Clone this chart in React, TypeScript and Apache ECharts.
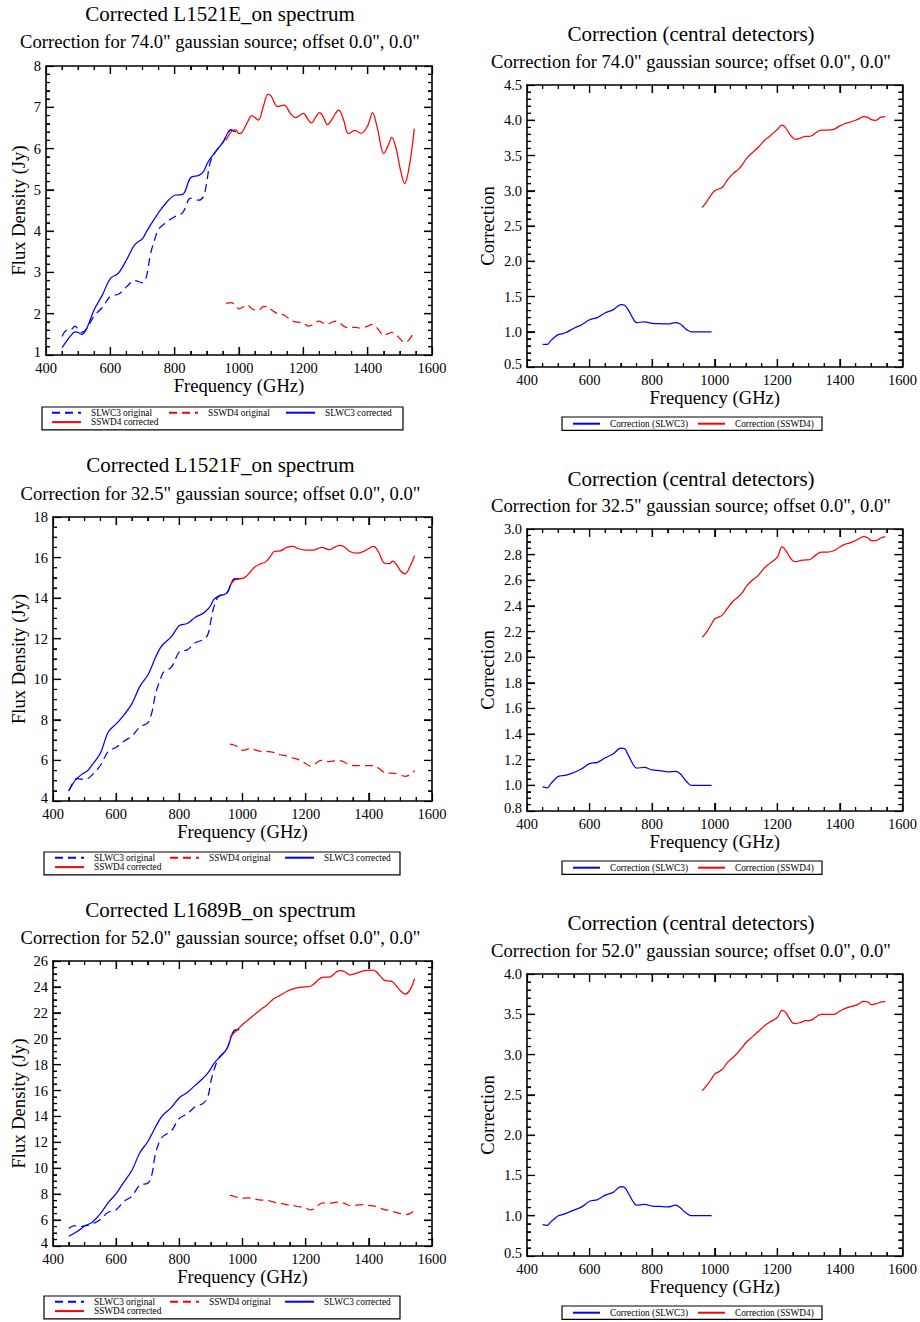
import React, { useEffect, useRef } from "react";
import * as echarts from "echarts";

const FONT = "'Liberation Serif', 'Times New Roman', serif";
const BLUE = "#0000ff";
const RED = "#ff0000";

// Frequencies (GHz)
const slwFreq = [450, 465, 475, 490, 500, 510, 525, 550, 575, 600, 625, 650, 675, 700, 712, 725, 740, 750, 775, 800, 825, 850, 875, 890, 900, 910, 925, 950, 975, 990];
const sswFreq = [960, 975, 990, 1000, 1010, 1025, 1040, 1060, 1075, 1090, 1100, 1120, 1140, 1160, 1175, 1200, 1215, 1225, 1240, 1250, 1260, 1275, 1290, 1300, 1310, 1325, 1340, 1360, 1380, 1400, 1415, 1430, 1450, 1465, 1475, 1490, 1500, 1515, 1530, 1545];

// ---- L1521E (74.0") ----
const e_slwOrig = [1.45, 1.6, 1.6, 1.7, 1.62, 1.55, 1.62, 1.95, 2.15, 2.42, 2.47, 2.65, 2.8, 2.75, 2.9, 3.45, 3.85, 4.05, 4.22, 4.35, 4.45, 4.8, 4.75, 4.85, 5.2, 5.65, 5.9, 6.15, 6.45, 6.4];
const e_slwCorr = [1.18, 1.35, 1.45, 1.56, 1.55, 1.5, 1.62, 2.1, 2.45, 2.85, 2.98, 3.3, 3.66, 3.82, 3.98, 4.15, 4.33, 4.45, 4.7, 4.87, 4.89, 5.3, 5.35, 5.45, 5.62, 5.75, 5.9, 6.15, 6.45, 6.4];
const e_sswOrig = [2.25, 2.27, 2.2, 2.12, 2.15, 2.22, 2.12, 2.08, 2.17, 2.18, 2.1, 2.0, 1.97, 1.85, 1.8, 1.78, 1.7, 1.72, 1.8, 1.82, 1.78, 1.75, 1.8, 1.82, 1.8, 1.7, 1.66, 1.67, 1.65, 1.7, 1.74, 1.65, 1.48, 1.52, 1.55, 1.48, 1.4, 1.3, 1.38, 1.58];
const e_sswCorr = [6.2, 6.4, 6.45, 6.36, 6.4, 6.62, 6.8, 6.69, 7.0, 7.31, 7.27, 7.02, 7.05, 6.85, 6.75, 6.85, 6.7, 6.62, 6.78, 6.87, 6.8, 6.58, 6.72, 6.85, 6.93, 6.7, 6.36, 6.44, 6.37, 6.55, 6.87, 6.5, 5.88, 6.1, 6.27, 5.95, 5.55, 5.15, 5.6, 6.48];
const e_slwFactor = [0.82, 0.82, 0.87, 0.93, 0.96, 0.97, 0.99, 1.05, 1.1, 1.17, 1.2, 1.27, 1.31, 1.385, 1.375, 1.3, 1.18, 1.13, 1.14, 1.12, 1.115, 1.11, 1.13, 1.11, 1.07, 1.03, 1.0, 1.0, 1.0, 1.0];
const e_sswFactor = [2.76, 2.85, 2.95, 3.0, 3.02, 3.05, 3.15, 3.25, 3.3, 3.38, 3.45, 3.54, 3.62, 3.72, 3.77, 3.87, 3.93, 3.9, 3.8, 3.75, 3.73, 3.75, 3.77, 3.77, 3.78, 3.83, 3.86, 3.86, 3.87, 3.92, 3.95, 3.97, 4.0, 4.03, 4.05, 4.04, 4.01, 4.0, 4.04, 4.05];

// ---- L1521F (32.5") ----
const f_slwOrig = [4.5, 4.95, 5.1, 5.08, 5.05, 5.1, 5.3, 5.75, 6.45, 6.65, 6.95, 7.2, 7.65, 7.85, 8.3, 9.3, 10.0, 10.35, 10.6, 11.35, 11.45, 11.8, 11.95, 12.2, 12.9, 13.6, 14.1, 14.25, 14.95, 14.95];
const f_slwCorr = [4.49, 4.9, 5.1, 5.3, 5.4, 5.5, 5.8, 6.35, 7.4, 7.8, 8.25, 8.8, 9.65, 10.2, 10.6, 11.1, 11.55, 11.75, 12.1, 12.65, 12.75, 13.05, 13.25, 13.45, 13.65, 13.95, 14.1, 14.25, 14.95, 14.95];
const f_sswOrig = [6.8, 6.75, 6.62, 6.5, 6.52, 6.6, 6.52, 6.45, 6.45, 6.42, 6.38, 6.28, 6.22, 6.12, 6.05, 5.85, 5.72, 5.77, 5.95, 6.0, 5.98, 5.94, 5.98, 6.0, 5.99, 5.9, 5.78, 5.75, 5.75, 5.75, 5.75, 5.63, 5.4, 5.37, 5.38, 5.33, 5.27, 5.22, 5.3, 5.5];
const f_sswCorr = [14.6, 14.9, 14.95, 14.97, 15.05, 15.3, 15.55, 15.7, 15.8, 16.1, 16.3, 16.33, 16.5, 16.55, 16.45, 16.37, 16.37, 16.37, 16.45, 16.5, 16.47, 16.38, 16.5, 16.57, 16.6, 16.5, 16.3, 16.22, 16.28, 16.45, 16.55, 16.3, 15.72, 15.7, 15.82, 15.6, 15.35, 15.2, 15.55, 16.1];
const f_slwFactor = [0.99, 0.98, 1.01, 1.05, 1.07, 1.075, 1.08, 1.1, 1.13, 1.17, 1.18, 1.215, 1.245, 1.29, 1.285, 1.23, 1.16, 1.135, 1.14, 1.12, 1.115, 1.105, 1.11, 1.09, 1.06, 1.03, 1.0, 1.0, 1.0, 1.0];
const f_sswFactor = [2.155, 2.2, 2.26, 2.3, 2.31, 2.33, 2.38, 2.44, 2.47, 2.51, 2.55, 2.6, 2.64, 2.7, 2.73, 2.78, 2.86, 2.84, 2.78, 2.75, 2.745, 2.755, 2.76, 2.76, 2.77, 2.8, 2.82, 2.82, 2.83, 2.86, 2.88, 2.89, 2.91, 2.93, 2.94, 2.93, 2.91, 2.91, 2.93, 2.94];

// ---- L1689B (52.0") ----
const b_slwOrig = [5.35, 5.55, 5.55, 5.5, 5.55, 5.6, 5.7, 6.05, 6.6, 6.8, 7.45, 7.85, 8.7, 8.85, 9.4, 11.2, 12.2, 12.5, 12.9, 13.85, 14.2, 14.75, 15.0, 15.5, 16.7, 17.6, 18.5, 19.2, 20.65, 20.7];
const b_slwCorr = [4.75, 4.95, 5.1, 5.35, 5.55, 5.65, 5.85, 6.5, 7.35, 8.05, 8.95, 9.85, 11.2, 12.05, 12.6, 13.2, 13.85, 14.15, 14.7, 15.45, 15.85, 16.4, 16.95, 17.35, 17.7, 18.1, 18.5, 19.2, 20.65, 20.7];
const b_sswOrig = [7.9, 7.82, 7.72, 7.68, 7.7, 7.72, 7.62, 7.55, 7.55, 7.45, 7.38, 7.3, 7.2, 7.12, 7.05, 6.93, 6.78, 6.85, 7.15, 7.3, 7.32, 7.3, 7.35, 7.38, 7.38, 7.27, 7.12, 7.15, 7.2, 7.12, 7.1, 6.98, 6.8, 6.75, 6.67, 6.55, 6.5, 6.43, 6.5, 6.75];
const b_sswCorr = [20.1, 20.5, 20.85, 21.1, 21.3, 21.6, 21.9, 22.3, 22.55, 22.9, 23.1, 23.35, 23.65, 23.85, 23.95, 24.0, 24.05, 24.2, 24.55, 24.72, 24.75, 24.75, 25.0, 25.2, 25.25, 25.15, 24.92, 25.05, 25.22, 25.28, 25.3, 25.0, 24.5, 24.45, 24.4, 24.0, 23.7, 23.45, 23.75, 24.65];
const b_slwFactor = [0.89, 0.88, 0.92, 0.97, 1.0, 1.01, 1.03, 1.07, 1.11, 1.18, 1.2, 1.255, 1.29, 1.36, 1.35, 1.27, 1.17, 1.13, 1.14, 1.12, 1.115, 1.11, 1.13, 1.1, 1.06, 1.03, 1.0, 1.0, 1.0, 1.0];
const b_sswFactor = [2.55, 2.62, 2.7, 2.76, 2.78, 2.82, 2.9, 2.97, 3.03, 3.1, 3.15, 3.22, 3.29, 3.36, 3.4, 3.46, 3.55, 3.53, 3.44, 3.39, 3.385, 3.4, 3.42, 3.42, 3.43, 3.47, 3.5, 3.5, 3.5, 3.54, 3.57, 3.59, 3.61, 3.64, 3.66, 3.65, 3.62, 3.63, 3.65, 3.66];

const fluxNames = ["SLWC3 original", "SSWD4 original", "SLWC3 corrected", "SSWD4 corrected"];
const corrNames = ["Correction (SLWC3)", "Correction (SSWD4)"];
const sources = ["L1521E", "L1521F", "L1689B"];
const sizes = ["74.0", "32.5", "52.0"];

// x axis scale (GHz)
const X_MIN = 400;
const X_MAX = 1600;
const X_INT = 200;
const X_MINOR = 4;

const layouts = [
  { grid: { left: 46, top: 66, width: 386, height: 289 }, titleX: 220, titleTop: 3.5, subTop: 32.2, yNameGap: 18, xNameGap: 21, legend: { left: 42, top: 407, colW: 116, padL: 9, itemW: 29, cols: 3 } },
  { grid: { left: 527, top: 85, width: 376, height: 282 }, titleX: 691, titleTop: 23.5, subTop: 52.2, yNameGap: 30, xNameGap: 20, legend: { left: 562, top: 417, colW: 124, padL: 10, itemW: 27, cols: 2 } },
  { grid: { left: 53, top: 517, width: 379, height: 284 }, titleX: 220.5, titleTop: 454.5, subTop: 483.7, yNameGap: 25, xNameGap: 21, legend: { left: 44, top: 852, colW: 114, padL: 10, itemW: 29, cols: 3 } },
  { grid: { left: 527, top: 529, width: 376, height: 282 }, titleX: 691, titleTop: 468.5, subTop: 496.2, yNameGap: 30, xNameGap: 21, legend: { left: 562, top: 861, colW: 124, padL: 10, itemW: 27, cols: 2 } },
  { grid: { left: 53, top: 961, width: 379, height: 285 }, titleX: 220.5, titleTop: 899.5, subTop: 928.2, yNameGap: 25, xNameGap: 20, legend: { left: 44, top: 1296, colW: 114, padL: 10, itemW: 29, cols: 3 } },
  { grid: { left: 527, top: 974, width: 376, height: 282 }, titleX: 691, titleTop: 912.5, subTop: 941.2, yNameGap: 30, xNameGap: 20, legend: { left: 562, top: 1306, colW: 124, padL: 10, itemW: 27, cols: 2 } },
];

const yScales = [
  { min: 1, max: 8, interval: 1, minor: 5, dec: 0 },
  { min: 0.5, max: 4.5, interval: 0.5, minor: 5, dec: 1 },
  { min: 4, max: 18, interval: 2, minor: 4, dec: 0 },
  { min: 0.8, max: 3.0, interval: 0.2, minor: 4, dec: 1 },
  { min: 4, max: 26, interval: 2, minor: 4, dec: 0 },
  { min: 0.5, max: 4.0, interval: 0.5, minor: 5, dec: 1 },
];

const zip = (xs: number[], ys: number[]) => xs.map((x, i) => [x, ys[i]]);

// frame tick items derived from the axis settings: [x, y, isMajor, side(0 bottom,1 top,2 left,3 right)]
function tickItems(ys: { min: number; max: number; interval: number; minor: number }) {
  const out: number[][] = [];
  const nx = Math.round(((X_MAX - X_MIN) / X_INT) * X_MINOR);
  for (let k = 1; k < nx; k++) {
    const v = X_MIN + (k * X_INT) / X_MINOR;
    const m = k % X_MINOR === 0 ? 1 : 0;
    out.push([v, ys.min, m, 0], [v, ys.max, m, 1]);
  }
  const ny = Math.round(((ys.max - ys.min) / ys.interval) * ys.minor);
  for (let k = 1; k < ny; k++) {
    const v = ys.min + (k * ys.interval) / ys.minor;
    const m = k % ys.minor === 0 ? 1 : 0;
    out.push([X_MIN, v, m, 2], [X_MAX, v, m, 3]);
  }
  return out;
}

function buildOption() {
  const grids: any[] = [];
  const xAxes: any[] = [];
  const yAxes: any[] = [];
  const tickSeries: any[] = [];
  const lineSeries: any[] = [];
  const titles: any[] = [];
  const legends: any[] = [];

  const fluxSets = [
    [e_slwOrig, e_sswOrig, e_slwCorr, e_sswCorr],
    [f_slwOrig, f_sswOrig, f_slwCorr, f_sswCorr],
    [b_slwOrig, b_sswOrig, b_slwCorr, b_sswCorr],
  ];
  const corrSets = [
    [e_slwFactor, e_sswFactor],
    [f_slwFactor, f_sswFactor],
    [b_slwFactor, b_sswFactor],
  ];

  layouts.forEach((L, i) => {
    const row = Math.floor(i / 2);
    const isFlux = i % 2 === 0;
    const ys = yScales[i];
    grids.push({ ...L.grid });

    const axisLine = { show: true, onZero: false, lineStyle: { color: "#000", width: 1.6 } };
    const tick = { show: true, inside: true, length: 8, lineStyle: { color: "#000", width: 1.2 } };
    const minorX = { show: true, splitNumber: X_MINOR, length: 4, lineStyle: { color: "#000", width: 1.1 } };
    const minorY = { show: true, splitNumber: ys.minor, length: 4, lineStyle: { color: "#000", width: 1.1 } };

    const xIdx = xAxes.length;
    const yIdx = yAxes.length;
    xAxes.push({
      type: "value", gridIndex: i, position: "bottom", min: X_MIN, max: X_MAX, interval: X_INT,
      name: "Frequency (GHz)", nameLocation: "middle", nameGap: L.xNameGap,
      nameTextStyle: { fontFamily: FONT, fontSize: 18.6, color: "#000" },
      axisLine, axisTick: tick, minorTick: minorX,
      axisLabel: { fontFamily: FONT, fontSize: 14.5, color: "#000", margin: 5, formatter: (v: number) => String(v) },
      splitLine: { show: false },
    });
    xAxes.push({
      type: "value", gridIndex: i, position: "top", min: X_MIN, max: X_MAX, interval: X_INT,
      axisLine, axisTick: tick, minorTick: minorX, axisLabel: { show: false }, splitLine: { show: false },
    });
    yAxes.push({
      type: "value", gridIndex: i, position: "left", min: ys.min, max: ys.max, interval: ys.interval,
      name: isFlux ? "Flux Density (Jy)" : "Correction", nameLocation: "middle", nameGap: L.yNameGap,
      nameTextStyle: { fontFamily: FONT, fontSize: 18.6, color: "#000" },
      axisLine, axisTick: tick, minorTick: minorY,
      axisLabel: {
        fontFamily: FONT, fontSize: 14.5, color: "#000", margin: 5,
        formatter: (v: number) => {
          const s = v.toFixed(ys.dec);
          return Math.abs(v - ys.min) < 1e-9 ? `{m|${s}}` : s;
        },
        rich: { m: { fontFamily: FONT, fontSize: 14.5, color: "#000", padding: [0, 0, 6, 0] } },
      },
      splitLine: { show: false },
    });
    yAxes.push({
      type: "value", gridIndex: i, position: "right", min: ys.min, max: ys.max, interval: ys.interval,
      axisLine, axisTick: tick, minorTick: minorY, axisLabel: { show: false }, splitLine: { show: false },
    });

    titles.push({
      text: isFlux ? `Corrected ${sources[row]}_on spectrum` : "Correction (central detectors)",
      left: L.titleX, top: L.titleTop, textAlign: "center", padding: 0,
      textStyle: { fontFamily: FONT, fontSize: 21, fontWeight: "normal", color: "#000" },
    });
    titles.push({
      text: `Correction for ${sizes[row]}" gaussian source; offset 0.0", 0.0"`,
      left: L.titleX, top: L.subTop, textAlign: "center", padding: 0,
      textStyle: { fontFamily: FONT, fontSize: 18.6, fontWeight: "normal", color: "#000" },
    });

    // inside ticks on the frame, placed through the grid's own scales
    tickSeries.push({
      type: "custom", xAxisIndex: xIdx, yAxisIndex: yIdx, data: tickItems(ys), clip: false, z: 10,
      renderItem: (_p: any, api: any) => {
        const c = api.coord([api.value(0), api.value(1)]);
        const len = api.value(2) ? 8 : 4;
        const side = api.value(3);
        const dx = side === 2 ? len : side === 3 ? -len : 0;
        const dy = side === 0 ? -len : side === 1 ? len : 0;
        return { type: "line", shape: { x1: c[0], y1: c[1], x2: c[0] + dx, y2: c[1] + dy }, style: { stroke: "#000", lineWidth: 1.2 } };
      },
    });

    const base = { type: "line", xAxisIndex: xIdx, yAxisIndex: yIdx, showSymbol: false, symbol: "none", smooth: 0.35 };
    if (isFlux) {
      const d = fluxSets[row];
      const colors = [BLUE, RED, BLUE, RED];
      const dashed = [true, true, false, false];
      fluxNames.forEach((nm, k) => {
        lineSeries.push({
          ...base, name: nm,
          data: zip(k % 2 === 0 ? slwFreq : sswFreq, d[k]),
          itemStyle: { color: colors[k] },
          lineStyle: { color: colors[k], width: 1.25, type: dashed[k] ? [8, 5] : "solid" },
        });
      });
    } else {
      const d = corrSets[row];
      corrNames.forEach((nm, k) => {
        const c = k === 0 ? BLUE : RED;
        lineSeries.push({
          ...base, name: nm,
          data: zip(k === 0 ? slwFreq : sswFreq, d[k]),
          itemStyle: { color: c },
          lineStyle: { color: c, width: 1.25, type: "solid" },
        });
      });
    }

    const lg = L.legend;
    legends.push({
      show: true, orient: "horizontal", left: lg.left, top: lg.top, width: lg.colW * lg.cols + 50,
      itemGap: 0, itemWidth: lg.itemW, itemHeight: 9,
      padding: isFlux ? [1, 1, 3, lg.padL] : [2, 0, 2, lg.padL],
      borderColor: "#000", borderWidth: 1.2,
      selectedMode: false,
      itemStyle: { color: "rgba(0,0,0,0)", borderWidth: 0, opacity: 0 },
      data: isFlux ? fluxNames : corrNames,
      textStyle: { fontFamily: FONT, fontSize: 9.3, color: "#000", width: lg.colW - lg.itemW - 10, padding: [0, 0, 0, 5], lineHeight: 9.4 },
    });
  });

  return {
    animation: false,
    title: titles,
    legend: legends,
    grid: grids,
    xAxis: xAxes,
    yAxis: yAxes,
    series: [...tickSeries, ...lineSeries],
  };
}

export default function App() {
  const ref = useRef<HTMLDivElement>(null);
  useEffect(() => {
    if (!ref.current) return;
    const chart = echarts.init(ref.current, null, { renderer: "svg" });
    chart.setOption(buildOption() as any);
    return () => chart.dispose();
  }, []);
  return (
    <div
      ref={ref}
      style={{ position: "absolute", left: 0, top: 0, width: 920, height: 1322, background: "#fff" }}
    />
  );
}
